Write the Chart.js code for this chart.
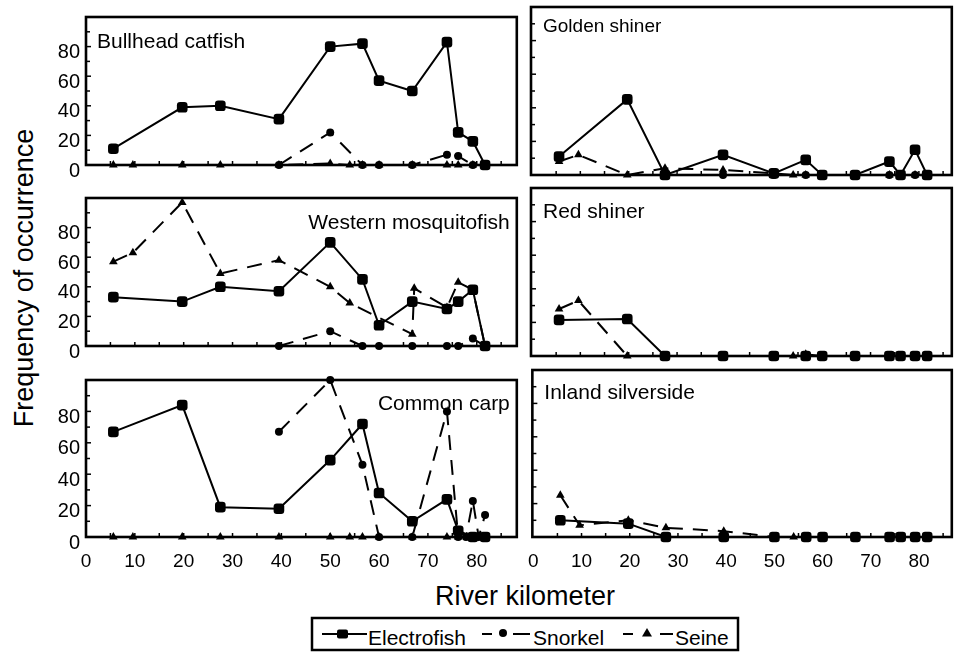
<!DOCTYPE html>
<html>
<head>
<meta charset="utf-8">
<script src="https://cdn.jsdelivr.net/npm/chart.js@4/dist/chart.umd.min.js"></script>
<style>
  html, body { margin: 0; padding: 0; background: #fff; }
  body { width: 955px; height: 652px; position: relative; overflow: hidden;
         font-family: "Liberation Sans", Arial, sans-serif; color: #000; }
  canvas { position: absolute; }
  .axis-title { position: absolute; font-size: 27px; line-height: 30px; height: 30px;
                text-align: center; white-space: nowrap; }
  #ytitle { width: 400px; left: -176px; top: 263px; transform: rotate(-90deg); }
  #xtitle { width: 300px; left: 375px; top: 581px; }
  #legend { position: absolute; left: 300px; top: 610px; }
</style>
</head>
<body>
<div id="ytitle" class="axis-title">Frequency of occurrence</div>
<div id="xtitle" class="axis-title">River kilometer</div>
<svg id="legend" width="450" height="42" xmlns="http://www.w3.org/2000/svg">
  <rect x="12" y="8" width="426" height="32" fill="none" stroke="#000" stroke-width="2.5"/>
  <line x1="22" y1="24" x2="67" y2="24" stroke="#000" stroke-width="2"/>
  <rect x="37" y="19.5" width="11" height="9" rx="2" fill="#000"/>
  <text x="68" y="35" font-family="Liberation Sans, Arial, sans-serif" font-size="21">Electrofish</text>
  <line x1="182" y1="24" x2="192" y2="24" stroke="#000" stroke-width="2"/>
  <circle cx="203" cy="23" r="4" fill="#000"/>
  <line x1="213" y1="24" x2="230" y2="24" stroke="#000" stroke-width="2"/>
  <text x="233" y="35" font-family="Liberation Sans, Arial, sans-serif" font-size="21">Snorkel</text>
  <line x1="323" y1="24" x2="333" y2="24" stroke="#000" stroke-width="2"/>
  <polygon points="347,18 352,26.5 342,26.5" fill="#000"/>
  <line x1="360" y1="24" x2="373" y2="24" stroke="#000" stroke-width="2"/>
  <text x="375" y="35" font-family="Liberation Sans, Arial, sans-serif" font-size="21">Seine</text>
</svg>

<script>
// Sampling sites along the river (km)
const riverKm = [5.6, 9.6, 19.7, 27.5, 39.5, 50, 54, 56.6, 60, 66.8, 67.2, 73.9, 76.2, 77.8, 79.2, 80.4, 81.7, 82.6];

const seriesNames = ['Electrofish', 'Snorkel', 'Seine'];
const panelTitles = ['Bullhead catfish', 'Golden shiner', 'Western mosquitofish',
                     'Red shiner', 'Common carp', 'Inland silverside'];
const xTickLabels = [0, 10, 20, 30, 40, 50, 60, 70, 80];
const yTickLabels = [0, 20, 40, 60, 80];

// Frequency of occurrence (%) per site; null = gear not used at that site
const bullheadElectro = [11, null, 39, 40, 31, 80, null, 82, 57, 50, null, 83, 22, null, 16, null, 0, null];
const bullheadSnorkel = [null, null, null, null, 0, 22, null, 0, 0, 0, null, 7, 6, null, 0, null, 0, null];
const bullheadSeine   = [0, 0, 0, 0, 0, 1, 0, 0, 0, 0, null, 0, 0, null, 0, null, 0, null];

const goldenElectro = [11, null, 45, 0, 12, 1, null, 9, 0, 0, null, 8, 0, null, 15, null, 0, null];
const goldenSnorkel = [null, null, null, null, 0, 0, null, 0, 0, 0, null, 0, 0, null, 0, null, 0, null];
const goldenSeine   = [8, 12, 0, 4, 3, 1, 0, 0, 0, 0, null, 0, 0, null, 0, null, 0, null];

const mosquitoElectro = [33, null, 30, 40, 37, 70, null, 45, 14, 30, null, 25, 30, null, 38, null, 0, null];
const mosquitoSnorkel = [null, null, null, null, 0, 10, null, 0, 0, 0, null, 0, 0, null, 5, null, 0, null];
const mosquitoSeine   = [57, 63, 97, 49, 58, 40, 29, null, null, 8, 39, 26, 43, null, 38, null, 0, null];

const redElectro = [21.5, null, 22, 0, 0, 0, null, 0, 0, 0, null, 0, 0, null, 0, null, 0, null];
const redSnorkel = [null, null, null, null, 0, 0, null, 0, 0, 0, null, 0, 0, null, 0, null, 0, null];
const redSeine   = [28, 33, 0, 0, 0, 0, 0, 1, 0, 0, null, 0, 0, null, 0, null, 0, null];

const carpElectro = [67, null, 84, 19, 18, 49, null, 72, 28, 10, null, 24, 4, null, 0, null, 0, null];
const carpSnorkel = [null, null, null, null, 67, 100, null, 46, 0, 0, null, 80, 0, 0, 23, 0, 14, null];
const carpSeine   = [0, 0, 0, 0, 0, 0, 0, 0, 0, 0, null, 0, 0, null, 0, null, 0, null];

const silversideElectro = [10, null, 8, 0, 0, 0, null, 0, 0, 0, null, 0, 0, null, 0, null, 0, null];
const silversideSnorkel = [null, null, null, null, 0, 0, null, 0, 0, 0, null, 0, 0, null, 0, null, 0, null];
const silversideSeine   = [25, 7, 10, 5.5, 3.5, 0, 0, 0, 0, 0, null, 0, 0, null, 0, null, 0, null];

// Panel grid (page pixels)
const COLS = [
  { left: 86, right: 517, min: 0, max: 88.2, yLabels: true, padL: 50 },
  { left: 531, right: 952, min: -0.2, max: 86.8, yLabels: false, padL: 16 }
];
const ROWS = [
  { top: 7, bottom: 175, xLabels: false },
  { top: 188, bottom: 356, xLabels: false },
  { top: 370, bottom: 537, xLabels: true }
];

const panels = [
  { title: panelTitles[0], col: 0, row: 0, align: 'left',  dx: 11, dy: 31, size: 21, series: [bullheadElectro, bullheadSnorkel, bullheadSeine] },
  { title: panelTitles[1], col: 1, row: 0, align: 'left',  dx: 12, dy: 25, size: 19, series: [goldenElectro, goldenSnorkel, goldenSeine] },
  { title: panelTitles[2], col: 0, row: 1, align: 'right', dx: -7, dy: 31, size: 21, series: [mosquitoElectro, mosquitoSnorkel, mosquitoSeine] },
  { title: panelTitles[3], col: 1, row: 1, align: 'left',  dx: 12, dy: 30, size: 21, series: [redElectro, redSnorkel, redSeine] },
  { title: panelTitles[4], col: 0, row: 2, align: 'right', dx: -7, dy: 30, size: 21, series: [carpElectro, carpSnorkel, carpSeine] },
  { title: panelTitles[5], col: 1, row: 2, align: 'left',  dx: 12, dy: 29, size: 21, series: [silversideElectro, silversideSnorkel, silversideSeine] }
];

const seriesStyle = [
  { borderDash: [],       pointStyle: 'rectRounded', pointRadius: 6.2 },
  { borderDash: [15, 10], pointStyle: 'circle',      pointRadius: 4 },
  { borderDash: [15, 10], pointStyle: 'triangle',    pointRadius: 5 }
];

Chart.defaults.font.family = '"Liberation Sans", Arial, sans-serif';
Chart.defaults.color = '#000';

// Box around each panel plus short inward tick marks
const framePlugin = {
  id: 'frame',
  beforeDatasetsDraw(chart) {
    const { ctx, chartArea: a, scales } = chart;
    ctx.save();
    ctx.strokeStyle = '#000';
    ctx.lineWidth = 1.5;
    for (let v = 5; v <= 85; v += 5) {
      const px = scales.x.getPixelForValue(v);
      if (px <= a.left + 1 || px >= a.right - 1) continue;
      ctx.beginPath();
      ctx.moveTo(px, a.bottom);
      ctx.lineTo(px, a.bottom - 4);
      ctx.stroke();
    }
    for (let v = 10; v <= 90; v += 10) {
      const py = scales.y.getPixelForValue(v);
      ctx.beginPath();
      ctx.moveTo(a.left, py);
      ctx.lineTo(a.left + (v % 20 === 0 ? 5 : 4), py);
      ctx.stroke();
    }
    ctx.lineWidth = 2.6;
    ctx.strokeRect(a.left, a.top, a.right - a.left, a.bottom - a.top);
    ctx.restore();
  }
};

// Species name inside each panel
const titlePlugin = {
  id: 'panelTitle',
  afterDraw(chart, args, opts) {
    const { ctx, chartArea: a } = chart;
    ctx.save();
    ctx.fillStyle = '#000';
    ctx.font = opts.size + 'px "Liberation Sans", Arial, sans-serif';
    ctx.textAlign = opts.align;
    ctx.textBaseline = 'alphabetic';
    const x = opts.align === 'left' ? a.left + opts.dx : a.right + opts.dx;
    ctx.fillText(opts.text, x, a.top + opts.dy);
    ctx.restore();
  }
};

panels.forEach(p => {
  const col = COLS[p.col], row = ROWS[p.row];
  const padL = col.padL, padR = 6, padT = 8, padB = row.xLabels ? 40 : 8;
  const w = (col.right - col.left) + padL + padR;
  const h = (row.bottom - row.top) + padT + padB;
  const cv = document.createElement('canvas');
  cv.width = w; cv.height = h;
  cv.style.width = w + 'px'; cv.style.height = h + 'px';
  cv.style.left = (col.left - padL) + 'px';
  cv.style.top = (row.top - padT) + 'px';
  document.body.appendChild(cv);

  const datasets = p.series.map((vals, i) => ({
    label: seriesNames[i],
    data: riverKm.map((km, j) => ({ x: km, y: vals[j] })).filter(d => d.y !== null),
    borderColor: '#000',
    backgroundColor: '#000',
    borderWidth: 2,
    borderDash: seriesStyle[i].borderDash,
    pointStyle: seriesStyle[i].pointStyle,
    pointRadius: seriesStyle[i].pointRadius,
    pointBorderWidth: 0,
    pointBackgroundColor: '#000',
    tension: 0,
    clip: false,
    order: 2 - i
  }));

  new Chart(cv, {
    type: 'line',
    data: { datasets },
    options: {
      responsive: false,
      animation: false,
      devicePixelRatio: 1,
      layout: { padding: { left: 0, right: padR, top: padT, bottom: 0 } },
      plugins: {
        legend: { display: false },
        tooltip: { enabled: false },
        panelTitle: { text: p.title, align: p.align, dx: p.dx, dy: p.dy, size: p.size }
      },
      scales: {
        x: {
          type: 'linear',
          min: col.min, max: col.max,
          grid: { display: false, drawTicks: false },
          border: { display: false },
          ticks: {
            display: row.xLabels,
            stepSize: 5,
            autoSkip: false,
            maxRotation: 0,
            includeBounds: false,
            padding: 13,
            font: { size: 19 },
            color: '#000',
            callback: v => xTickLabels.includes(v) ? String(v) : ''
          },
          afterFit: s => { s.height = padB; }
        },
        y: {
          min: 0, max: 100,
          grid: { display: false, drawTicks: false },
          border: { display: false },
          ticks: {
            display: col.yLabels,
            stepSize: 10,
            autoSkip: false,
            padding: 6,
            labelOffset: 6,
            font: { size: 20 },
            color: '#000',
            callback: v => yTickLabels.includes(v) ? String(v) : ''
          },
          afterFit: s => { s.width = padL; }
        }
      }
    },
    plugins: [framePlugin, titlePlugin]
  });
});
</script>
</body>
</html>
